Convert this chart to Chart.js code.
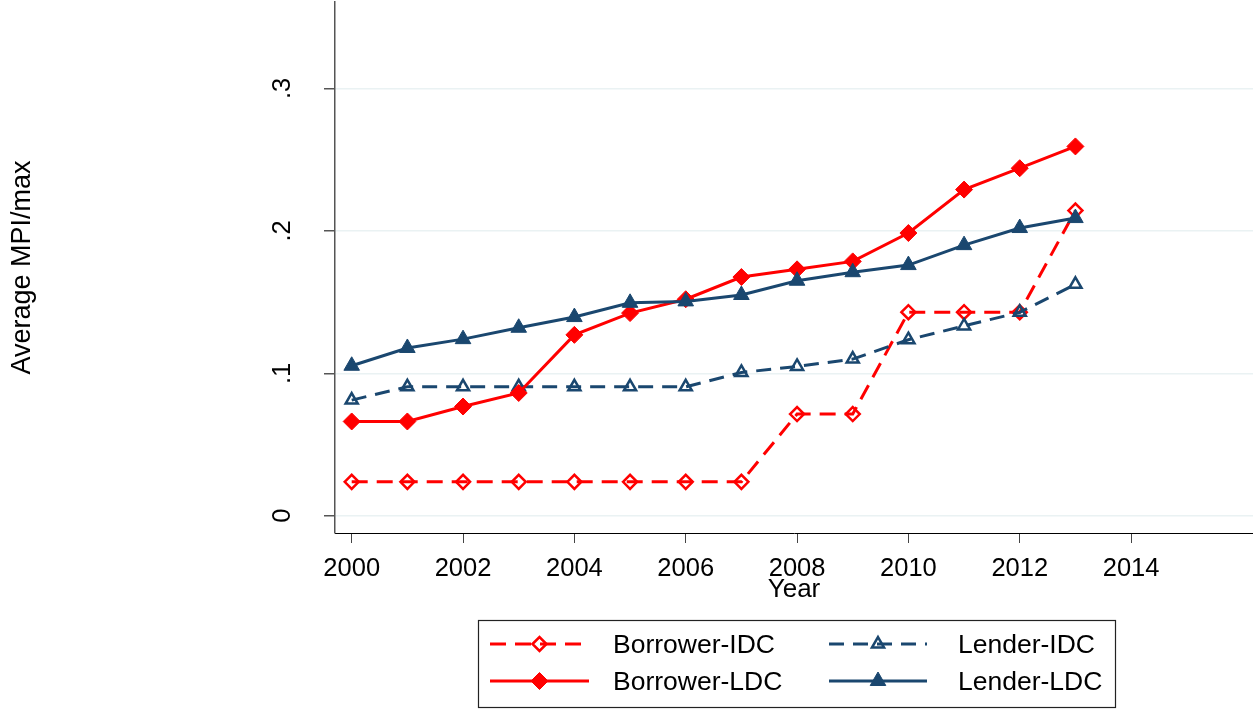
<!doctype html>
<html lang="en">
  <head>
    <meta charset="utf-8">
    <title>Average MPI/max by year</title>
    <style>
      * {
        margin: 0;
        padding: 0;
      }
      body {
        background: white;
      }
      .chartBox {
        width: 1253px;
        height: 709px;
      }
    </style>
  </head>
  <body>
    <div class="chartBox">
      <canvas id="myChart" width="1253" height="709"></canvas>
    </div>
    <script src="https://cdn.jsdelivr.net/npm/chart.js/dist/chart.umd.min.js"></script>
    <script>
    // data
    const years = [2000, 2001, 2002, 2003, 2004, 2005, 2006, 2007, 2008, 2009, 2010, 2011, 2012, 2013];
    const borrowerIDC = [0.0238, 0.0238, 0.0238, 0.0238, 0.0238, 0.0238, 0.0238, 0.0238, 0.0714, 0.0714, 0.1429, 0.1429, 0.1429, 0.2143];
    const lenderIDC = [0.0812, 0.0905, 0.0905, 0.0905, 0.0905, 0.0905, 0.0905, 0.1006, 0.1048, 0.110, 0.1236, 0.1333, 0.1428, 0.1625];
    const borrowerLDC = [0.0662, 0.0662, 0.0767, 0.0862, 0.127, 0.1423, 0.152, 0.1676, 0.173, 0.1786, 0.1985, 0.229, 0.244, 0.2593];
    const lenderLDC = [0.1053, 0.1178, 0.124, 0.132, 0.1395, 0.1495, 0.1505, 0.155, 0.165, 0.171, 0.176, 0.190, 0.202, 0.209];
    const xTicks = [2000, 2002, 2004, 2006, 2008, 2010, 2012, 2014];
    const yTicks = [0, 0.1, 0.2, 0.3];

    const red = '#ff0000';
    const navy = '#1a476f';
    const fontFamily = "'Liberation Sans', Arial, sans-serif";

    Chart.defaults.font.family = fontFamily;
    Chart.defaults.color = '#000';

    function points(values) {
      return values.map((v, i) => ({ x: years[i], y: v }));
    }

    // fixed scale boxes, no extra room for overhanging tick labels
    function fixBox(size) {
      return s => {
        if (s.isHorizontal()) s.height = size;
        else s.width = size;
        s.paddingTop = 0;
        s.paddingBottom = 0;
        s.paddingLeft = 0;
        s.paddingRight = 0;
      };
    }

    // setup
    const data = {
      datasets: [{
        label: 'Borrower-IDC',
        data: points(borrowerIDC),
        borderColor: red,
        borderWidth: 3,
        borderDash: [16, 9],
        pointStyle: 'rectRot',
        pointRadius: 7,
        pointBackgroundColor: 'rgba(255, 255, 255, 0)',
        pointBorderColor: red,
        pointBorderWidth: 2.5,
        order: 4
      }, {
        label: 'Lender-IDC',
        data: points(lenderIDC),
        borderColor: navy,
        borderWidth: 3,
        borderDash: [15, 9],
        pointStyle: 'triangle',
        pointRadius: 7,
        pointBackgroundColor: 'rgba(255, 255, 255, 0)',
        pointBorderColor: navy,
        pointBorderWidth: 2.5,
        order: 3
      }, {
        label: 'Borrower-LDC',
        data: points(borrowerLDC),
        borderColor: red,
        borderWidth: 3,
        pointStyle: 'rectRot',
        pointRadius: 8.5,
        pointBackgroundColor: red,
        pointBorderColor: red,
        pointBorderWidth: 1,
        order: 2
      }, {
        label: 'Lender-LDC',
        data: points(lenderLDC),
        borderColor: navy,
        borderWidth: 3,
        pointStyle: 'triangle',
        pointRadius: 9,
        pointBackgroundColor: navy,
        pointBorderColor: navy,
        pointBorderWidth: 1,
        order: 1
      }]
    };

    // legend drawn as a framed 2x2 grid of line + marker keys
    const boxLegend = {
      id: 'boxLegend',
      afterDraw(chart) {
        const ctx = chart.ctx;
        const box = { left: 478, top: 620, right: 1115, bottom: 707 };
        const rows = [644, 681];
        const cols = [
          { lineFrom: 490, lineTo: 589, text: 613 },
          { lineFrom: 829, lineTo: 927, text: 958 }
        ];
        ctx.save();
        ctx.strokeStyle = '#222';
        ctx.lineWidth = 1.2;
        ctx.strokeRect(box.left + 0.5, box.top + 0.5, box.right - box.left, box.bottom - box.top);

        chart.data.datasets.forEach((ds, i) => {
          const col = cols[i % 2];
          const y = rows[Math.floor(i / 2)];
          // key line
          ctx.save();
          ctx.strokeStyle = ds.borderColor;
          ctx.lineWidth = ds.borderWidth;
          ctx.setLineDash(ds.borderDash || []);
          ctx.beginPath();
          ctx.moveTo(col.lineFrom, y);
          ctx.lineTo(col.lineTo, y);
          ctx.stroke();
          ctx.restore();
          // key marker
          ctx.save();
          ctx.fillStyle = ds.pointBackgroundColor;
          ctx.strokeStyle = ds.pointBorderColor;
          ctx.lineWidth = ds.pointBorderWidth;
          Chart.helpers.drawPoint(ctx, {
            pointStyle: ds.pointStyle,
            radius: ds.pointRadius,
            rotation: 0,
            borderWidth: ds.pointBorderWidth
          }, (col.lineFrom + col.lineTo) / 2, y);
          ctx.restore();
          // label
          ctx.fillStyle = '#000';
          ctx.font = '26.5px ' + fontFamily;
          ctx.textAlign = 'left';
          ctx.textBaseline = 'middle';
          ctx.fillText(ds.label, col.text, y + 2);
        });
        ctx.restore();
      }
    };

    // config
    const config = {
      type: 'line',
      data,
      options: {
        responsive: false,
        animation: false,
        events: [],
        layout: {
          autoPadding: false,
          padding: { top: 2, right: 0, bottom: 104, left: 0 }
        },
        plugins: {
          legend: { display: false },
          tooltip: { enabled: false }
        },
        scales: {
          x: {
            type: 'linear',
            min: 1999.7,
            max: 2016.19,
            afterBuildTicks: s => { s.ticks = xTicks.map(v => ({ value: v })); },
            afterFit: fixBox(72),
            grid: {
              drawOnChartArea: false,
              tickLength: 10,
              tickColor: '#444',
              tickWidth: 1
            },
            border: { color: '#000', width: 1 },
            ticks: {
              font: { size: 25.5 },
              color: '#000',
              padding: 11,
              maxRotation: 0,
              autoSkip: false,
              callback: v => String(v)
            },
            title: {
              display: true,
              text: 'Year',
              font: { size: 26 },
              color: '#000',
              padding: 0
            }
          },
          y: {
            min: -0.0121,
            max: 0.3607,
            afterBuildTicks: s => { s.ticks = yTicks.map(v => ({ value: v })); },
            afterFit: fixBox(335),
            grid: {
              color: '#eaf2f3',
              lineWidth: 1.5,
              tickLength: 11,
              tickColor: '#555',
              tickWidth: 1.5
            },
            border: { color: '#555', width: 1.5 },
            ticks: {
              font: { size: 25.5 },
              color: '#000',
              minRotation: 90,
              maxRotation: 90,
              crossAlign: 'center',
              padding: 30,
              callback: v => v === 0 ? '0' : String(v).replace('0.', '.')
            },
            title: {
              display: true,
              text: 'Average MPI/max',
              font: { size: 27 },
              color: '#000',
              padding: { top: 6, bottom: 0 }
            }
          }
        }
      },
      plugins: [boxLegend]
    };

    // render init block
    const myChart = new Chart(
      document.getElementById('myChart'),
      config
    );
    </script>
  </body>
</html>
